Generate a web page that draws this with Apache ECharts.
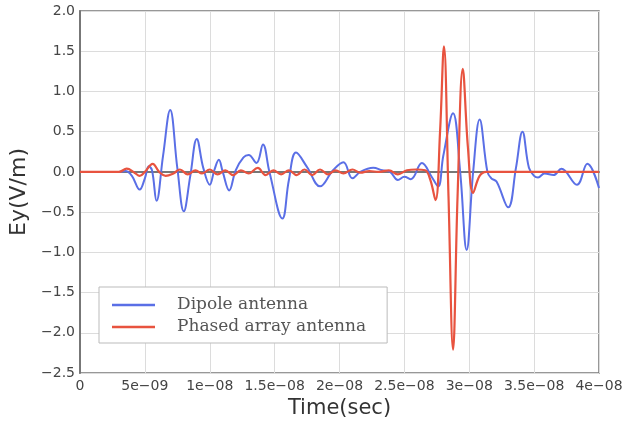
<!DOCTYPE html>
<html>
<head>
<meta charset="utf-8">
<script src="https://cdn.jsdelivr.net/npm/echarts@6/dist/echarts.min.js"></script>
<style>html,body{margin:0;padding:0;background:#fff}#c{width:632px;height:424px}</style>
</head>
<body>
<div id="c"></div>
<script>
// time in nanoseconds, field Ey in V/m
var dipoleT = [0,2,3,3.5,4.0,4.6,5.0,5.3,5.55,5.9,6.4,6.95,7.5,8.0,8.5,9.0,9.5,10.0,10.35,10.7,11.0,11.5,12.0,12.6,13.0,13.6,14.1,14.6,15.6,16.1,16.65,17.5,18.5,19.5,20.3,21.0,21.6,22.6,23.3,23.9,24.5,25.0,25.5,26.35,27.1,27.6,28.0,28.75,29.3,29.8,30.3,30.8,31.4,31.7,32.1,33.0,33.6,34.1,34.6,35.0,35.3,35.8,36.5,37.1,38.3,39.1,40.0];
var dipoleV = [0,0,0,0.01,-0.05,-0.22,-0.08,0.07,0.02,-0.36,0.2,0.77,0.05,-0.49,-0.05,0.41,0.05,-0.16,0.02,0.15,0.0,-0.23,0.02,0.18,0.21,0.11,0.34,0.0,-0.58,-0.1,0.24,0.06,-0.18,0.02,0.12,-0.08,0.0,0.05,0.02,0.0,-0.1,-0.06,-0.09,0.11,-0.06,-0.18,0.2,0.73,0.0,-0.97,0.0,0.65,0.0,-0.08,-0.12,-0.44,0.05,0.5,0.05,-0.05,-0.07,-0.02,-0.04,0.04,-0.16,0.1,-0.2];
var phasedT = [0,3.0,3.6,4.2,4.6,5.0,5.6,6.1,6.6,7.2,7.7,8.3,8.9,9.4,10.0,10.6,11.2,11.8,12.4,13.0,13.7,14.3,14.9,15.5,16.1,16.7,17.3,17.9,18.5,19.1,19.7,20.3,21.0,21.6,22.3,23.0,23.8,24.5,25.2,25.9,26.6,27.0,27.4,27.75,28.05,28.4,28.75,29.1,29.5,29.9,30.3,30.8,31.3,40];
var phasedV = [0,0,0.04,-0.01,-0.05,0.0,0.1,0.0,-0.05,-0.02,0.03,-0.03,0.02,-0.02,0.03,-0.03,0.02,-0.04,0.02,-0.02,0.05,-0.04,0.02,-0.03,0.02,-0.04,0.03,-0.04,0.03,-0.03,0.02,-0.02,0.03,-0.01,0.01,0.0,0.02,-0.03,0.02,0.03,0.02,-0.1,-0.35,0.5,1.56,-0.3,-2.21,-0.3,1.28,0.3,-0.26,-0.05,0.0,0];
var xTickLabels = ['0','5e\u221209','1e\u221208','1.5e\u221208','2e\u221208','2.5e\u221208','3e\u221208','3.5e\u221208','4e\u221208'];
var yTickLabels = ['\u22122.5','\u22122.0','\u22121.5','\u22121.0','\u22120.5','0.0','0.5','1.0','1.5','2.0'];
var seriesNames = ['Dipole antenna','Phased array antenna'];

function pairs(t, v){ var out=[]; for(var i=0;i<t.length;i++) out.push([t[i], v[i]]); return out; }

var chart = echarts.init(document.getElementById('c'), null, {renderer:'canvas'});
chart.setOption({
  animation:false,
  backgroundColor:'#fff',
  grid:{left:80, top:11, right:33, bottom:51, show:true, borderColor:'#777', borderWidth:1.5, backgroundColor:'transparent'},
  xAxis:{type:'value', min:0, max:40, interval:5,
    name:'Time(sec)', nameLocation:'middle', nameGap:24,
    nameTextStyle:{fontFamily:'DejaVu Sans', fontSize:21, color:'#333'},
    axisLine:{show:true, lineStyle:{color:'#777', width:2}},
    axisTick:{show:false},
    splitLine:{show:true, lineStyle:{color:'#dcdcdc', width:1}},
    axisLabel:{margin:6, fontFamily:'DejaVu Sans', fontSize:14, color:'#444',
      formatter:function(v){ return xTickLabels[Math.round(v/5)]; }}
  },
  yAxis:{type:'value', min:-2.5, max:2.0, interval:0.5,
    name:'Ey(V/m)', nameLocation:'middle', nameGap:47, nameRotate:90,
    nameTextStyle:{fontFamily:'DejaVu Sans', fontSize:22, color:'#333'},
    axisLine:{show:true, lineStyle:{color:'#777', width:2}},
    axisTick:{show:false},
    splitLine:{show:true, lineStyle:{color:'#dcdcdc', width:1}},
    axisLabel:{margin:5, fontFamily:'DejaVu Sans', fontSize:14, color:'#444',
      formatter:function(v){ return yTickLabels[Math.round((v+2.5)/0.5)]; }}
  },
  legend:{show:true, orient:'vertical', left:99, top:287,
    padding:[9.5,21,7.5,13], itemGap:5, itemWidth:43, itemHeight:2.5, icon:'rect',
    backgroundColor:'#fff', borderColor:'#bbb', borderWidth:1,
    textStyle:{fontFamily:'DejaVu Serif', fontSize:17, color:'#555', padding:[0,0,0,17]},
    data:seriesNames
  },
  series:[
    {name:seriesNames[0], type:'line', data:pairs(dipoleT, dipoleV), smooth:0.4, showSymbol:false, symbol:'none',
      lineStyle:{color:'#5a6fe6', width:2}, itemStyle:{color:'#5a6fe6'}, z:2},
    {name:seriesNames[1], type:'line', data:pairs(phasedT, phasedV), smooth:0.4, showSymbol:false, symbol:'none',
      lineStyle:{color:'#e8533f', width:2.2}, itemStyle:{color:'#e8533f'}, z:3}
  ]
});
</script>
</body>
</html>
